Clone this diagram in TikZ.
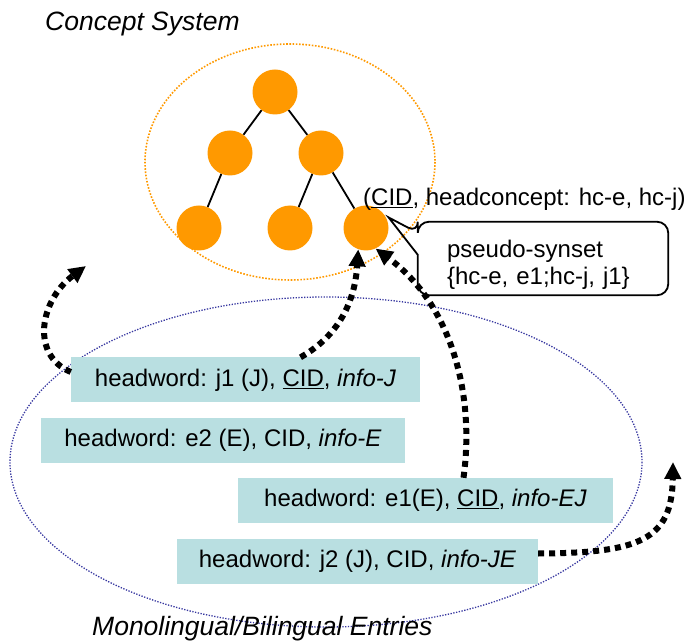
\documentclass[tikz,border=0pt]{standalone}
\usepackage{fontspec}
\setmainfont{Liberation Sans}
\usetikzlibrary{arrows.meta}
\definecolor{conceptorange}{RGB}{255,153,0}
\definecolor{entryblue}{RGB}{55,55,160}
\definecolor{entryfill}{RGB}{185,223,225}
\tikzset{
  concept/.style={circle,fill=conceptorange,minimum size=45pt,inner sep=0pt},
  treeedge/.style={line width=1.8pt,black},
  entry/.style={fill=entryfill,minimum height=45pt,inner sep=0pt,
    font=\fontsize{24}{27}\selectfont},
  linkarrow/.style={-{Triangle[length=17pt,width=16pt]},line width=6pt,
    dash pattern=on 6pt off 5pt},
  areatitle/.style={font=\fontsize{26.5}{30}\selectfont\itshape,anchor=base west,inner sep=0pt},
  synbox/.style={minimum width=250pt,minimum height=73pt,inner xsep=29pt,text width=192pt,
    align=left,font=\fontsize{24}{27}\selectfont},
  callline/.style={line width=1.8pt,black}
}
\begin{document}
\begin{tikzpicture}[x=1pt,y=-1pt]
  \useasboundingbox (0,0) rectangle (686,644);
  % areas
  \draw[conceptorange,line width=1.6pt,dash pattern=on 1.6pt off 1.6pt] (290,162) ellipse [x radius=145,y radius=118];
  \draw[entryblue,line width=1.3pt,dash pattern=on 1.3pt off 1.5pt] (326,462) ellipse [x radius=316,y radius=165];
  \node[areatitle] (csys) at (45,31) {Concept System};
  \node[areatitle] (mbent) at (92,635) {Monolingual/Bilingual Entries};

  % concept tree
  \node[concept] (c0) at (275,92) {};
  \node[concept] (c1) at (230,153) {};
  \node[concept] (c2) at (321,153) {};
  \node[concept] (c3) at (199,228) {};
  \node[concept] (c4) at (290,228) {};
  \node[concept] (c5) at (366,228) {};
  \draw[treeedge] (c0) -- (c1);
  \draw[treeedge] (c0) -- (c2);
  \draw[treeedge] (c1) -- (c3);
  \draw[treeedge] (c2) -- (c4);
  \draw[treeedge] (c2) -- (c5);
  \node[anchor=base west,inner sep=0pt,font=\fontsize{24}{27}\selectfont] (cidlab) at (363,206)
    {(\underline{CID}, headconcept: hc-e, hc-j)};

  % pseudo-synset callout
  \node[synbox] (syn) at (543,264.5) {pseudo-synset\\\{hc-e, e1;hc-j, j1\}};
  \draw[callline,rounded corners=11pt] ([yshift=-27pt]syn.north west) -- ([yshift=6pt]syn.south west)
    -- ([yshift=6pt]syn.south east) -- ([yshift=6pt]syn.north east) -- ([yshift=6pt]syn.north west)
    -- ([yshift=-5pt]syn.north west) [sharp corners] -- ([shift={(2,-1)}]c5.25) -- cycle;

  % entries
  \node[entry,minimum width=349pt] (ej1) at (245.5,380) {headword: j1 (J), \underline{CID}, \textit{info-J}};
  \node[entry,minimum width=364pt] (ee2) at (223,440.5) {headword: e2 (E), CID, \textit{info-E}};
  \node[entry,minimum width=375pt] (ee1) at (425.5,500.5) {headword: e1(E), \underline{CID}, \textit{info-EJ}};
  \node[entry,minimum width=361pt] (ej2) at (357.5,561.5) {headword: j2 (J), CID, \textit{info-JE}};

  % links
  \coordinate (jout) at (86,266);
  \coordinate (jeout) at (673,462);
  \draw[linkarrow] ([yshift=8pt]ej1.west) .. controls (30,355) and (40,300) .. (jout);
  \draw[linkarrow] ([xshift=55pt]ej1.north) .. controls (340,335) and (355,300) .. (c5.250);
  \draw[linkarrow] ([xshift=38pt]ee1.north) .. controls (475,395) and (452,305) .. (c5.295);
  \draw[linkarrow] ([yshift=8pt]ej2.east) .. controls (640,553) and (672,540) .. (jeout);
\end{tikzpicture}
\end{document}
